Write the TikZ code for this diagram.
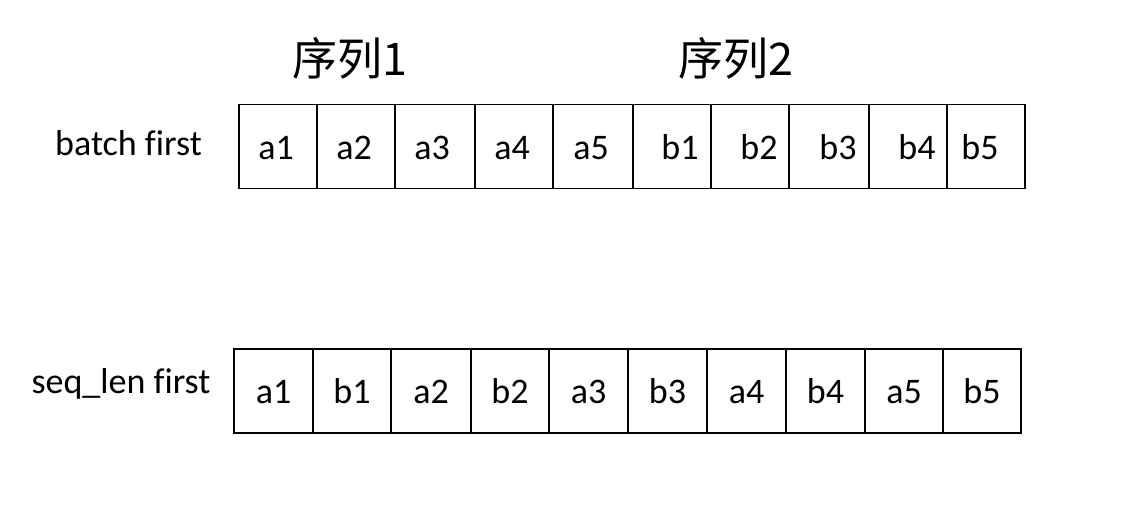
\documentclass[tikz,border=0pt]{standalone}
\usepackage{fontspec}
\setmainfont[Ligatures=NoCommon]{Carlito}
\newfontfamily\cjk{Noto Sans CJK SC}
\begin{document}
\begin{tikzpicture}[x=1pt,y=-1pt,
  cell/.style={draw=black,line width=1.6pt,minimum height=84pt,inner sep=0pt},
  txt/.style={inner sep=0pt,font=\fontsize{36}{42}\selectfont},
  lbl/.style={inner sep=0pt,font=\fontsize{36}{42}\selectfont},
  ttl/.style={inner sep=0pt,font=\cjk\fontsize{45}{50}\selectfont}]
\useasboundingbox[fill=white] (0,0) rectangle (1148,524);
% titles
\node[ttl] (t1) at (350,58) {序列1};
\node[ttl] (t2) at (736,58) {序列2};
% row labels
\node[lbl,anchor=base] (l1) at (128.5,156) {batch first};
\node[lbl,anchor=base] (l2) at (121,393) {seq\_len first};
% top row cells
\foreach \i/\l/\r in {1/239/317,2/317/395,3/395/475,4/475/553,5/553/633,6/633/711,7/711/789,8/789/869,9/869/947,10/947/1025}{
  \node[cell,minimum width={(\r-\l)*1pt}] (c\i) at ({(\l+\r)/2},146.5) {};
}
\foreach \x/\t/\n in {276/a1/1,354/a2/2,432/a3/3,512/a4/4,591/a5/5,680/b1/6,759/b2/7,838/b3/8,917/b4/9,980/b5/10}{
  \node[txt,anchor=base] (s\n) at (\x,159) {\t};
}
% bottom row cells
\foreach \i/\l/\r/\t in {1/234/313/a1,2/313/391/b1,3/391/471/a2,4/471/549/b2,5/549/628/a3,6/628/707/b3,7/707/786/a4,8/786/865/b4,9/865/943/a5,10/943/1021/b5}{
  \node[cell,minimum width={(\r-\l)*1pt}] (d\i) at ({(\l+\r)/2},391) {};
  \node[txt,anchor=base] (u\i) at ({(\l+\r)/2},403) {\t};
}
\end{tikzpicture}
\end{document}
